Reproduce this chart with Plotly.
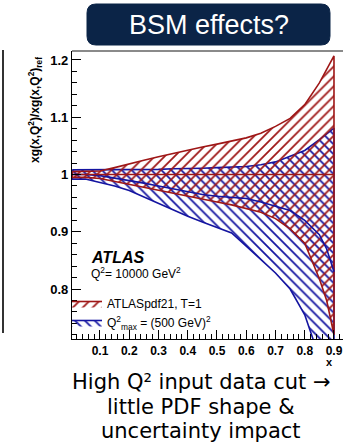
import plotly.graph_objects as go

# ---------------- data ----------------
x_vals = [0.005, 0.05, 0.1, 0.15, 0.2, 0.25, 0.3, 0.35, 0.4, 0.45, 0.5, 0.55,
          0.6, 0.65, 0.7, 0.75, 0.8, 0.85, 0.875, 0.9]

ref_central = [1.0] * len(x_vals)
ref_upper = [1.005, 1.005, 1.006, 1.012, 1.019, 1.025, 1.031, 1.037, 1.043, 1.048, 1.053, 1.058,
             1.064, 1.072, 1.084, 1.098, 1.122, 1.160, 1.183, 1.207]
ref_lower = [0.995, 0.995, 0.993, 0.988, 0.982, 0.977, 0.972, 0.967, 0.962, 0.957, 0.952, 0.947,
             0.941, 0.934, 0.923, 0.905, 0.880, 0.818, 0.780, 0.720]

cut_central = [1.0, 1.0, 0.998, 0.994, 0.990, 0.985, 0.980, 0.975, 0.970, 0.965, 0.962, 0.960,
               0.958, 0.952, 0.944, 0.937, 0.920, 0.895, 0.870, 0.830]
cut_upper = [1.008, 1.008, 1.008, 1.008, 1.009, 1.009, 1.009, 1.010, 1.010, 1.011, 1.012, 1.013,
             1.014, 1.017, 1.022, 1.032, 1.042, 1.061, 1.071, 1.081]
cut_lower = [0.992, 0.992, 0.986, 0.980, 0.972, 0.961, 0.950, 0.938, 0.927, 0.917, 0.907, 0.898,
             0.875, 0.852, 0.828, 0.800, 0.755, 0.680, 0.640, 0.600]

x_ticks = [0.1, 0.2, 0.3, 0.4, 0.5, 0.6, 0.7, 0.8, 0.9]
x_ticklabels = ["0.1", "0.2", "0.3", "0.4", "0.5", "0.6", "0.7", "0.8", "0.9"]
y_ticks = [0.8, 0.9, 1.0, 1.1, 1.2]
y_ticklabels = ["0.8", "0.9", "1", "1.1", "1.2"]

series_names = ["ATLASpdf21, T=1", "Q<sup>2</sup><sub>max</sub> = (500 GeV)<sup>2</sup>"]

# ---------------- style ----------------
RED = "#9e1616"
BLUE = "#1414a0"
FONT = "Liberation Sans, Arial, sans-serif"
W, H = 343, 445
ML, MR, MT, MB = 72, 0, 51, 106
PW, PH = W - ML - MR, H - MT - MB


def px(xp):
    return (xp - ML) / PW


def py(yp):
    return (H - MB - yp) / PH


def band(xs, up, lo):
    bx = list(xs) + list(xs)[::-1] + [xs[0]]
    by = list(up) + list(lo)[::-1] + [up[0]]
    return bx, by


fig = go.Figure()

bx, by = band(x_vals, cut_upper, cut_lower)
fig.add_trace(go.Scatter(
    x=bx, y=by, mode="lines", fill="toself", name=series_names[1],
    line=dict(color=BLUE, width=1.6),
    fillcolor="rgba(0,0,0,0)",
    fillpattern=dict(shape="\\", fgcolor=BLUE, bgcolor="rgba(0,0,0,0)",
                     size=7, solidity=0.25, fgopacity=1),
    hoverinfo="skip", legendrank=2,
))
bx, by = band(x_vals, ref_upper, ref_lower)
fig.add_trace(go.Scatter(
    x=bx, y=by, mode="lines", fill="toself", name=series_names[0],
    line=dict(color=RED, width=1.6),
    fillcolor="rgba(0,0,0,0)",
    fillpattern=dict(shape="/", fgcolor=RED, bgcolor="rgba(0,0,0,0)",
                     size=7, solidity=0.25, fgopacity=1),
    hoverinfo="skip", legendrank=1,
))
fig.add_trace(go.Scatter(x=x_vals, y=cut_central, mode="lines",
                         line=dict(color=BLUE, width=1.6), showlegend=False))
fig.add_trace(go.Scatter(x=x_vals, y=ref_central, mode="lines",
                         line=dict(color=RED, width=1.6), showlegend=False))

fig.update_layout(
    width=W, height=H,
    margin=dict(l=ML, r=MR, t=MT, b=MB, pad=0),
    paper_bgcolor="white", plot_bgcolor="white",
    font=dict(family=FONT, color="black"),
    showlegend=True,
    legend=dict(x=px(67), y=py(289), xanchor="left", yanchor="top",
                bgcolor="rgba(0,0,0,0)", font=dict(size=12, family=FONT),
                itemwidth=30, tracegroupgap=0, traceorder="normal"),
    xaxis=dict(range=[0.0043, 0.9308], showgrid=False, zeroline=False,
               showline=True, linecolor="black", linewidth=1.2,
               tickmode="array", tickvals=x_ticks, ticktext=x_ticklabels,
               ticks="inside", ticklen=9, tickcolor="black", tickwidth=1,
               ticklabeloverflow="allow",
               tickfont=dict(size=12, family=FONT, weight="bold"),
               minor=dict(tickmode="linear", tick0=0, dtick=0.02, ticks="inside",
                          ticklen=5, tickcolor="black", tickwidth=1)),
    yaxis=dict(range=[0.7127, 1.2157], showgrid=False, zeroline=False,
               showline=True, linecolor="black", linewidth=1.2,
               tickmode="array", tickvals=y_ticks, ticktext=y_ticklabels,
               ticks="inside", ticklen=9, tickcolor="black", tickwidth=1,
               ticklabeloverflow="allow",
               tickfont=dict(size=13, family=FONT, weight="bold"),
               minor=dict(tickmode="linear", tick0=0, dtick=0.02, ticks="inside",
                          ticklen=5, tickcolor="black", tickwidth=1)),
)

# frame top line (gray) and slide decoration line at left
fig.add_shape(type="line", xref="paper", yref="paper", x0=0, x1=px(343), y0=1, y1=1,
              line=dict(color="#8a8a8a", width=2))
fig.add_shape(type="line", xref="paper", yref="paper", x0=px(3), x1=px(3), y0=py(50), y1=py(333),
              line=dict(color="#333333", width=2))

# rounded title box
hw, hh, r = 121.5, 20.5, 9
path = (f"M {-hw + r},{-hh} L {hw - r},{-hh} Q {hw},{-hh} {hw},{-hh + r} "
        f"L {hw},{hh - r} Q {hw},{hh} {hw - r},{hh} L {-hw + r},{hh} "
        f"Q {-hw},{hh} {-hw},{hh - r} L {-hw},{-hh + r} Q {-hw},{-hh} {-hw + r},{-hh} Z")
fig.add_shape(type="path", xref="paper", yref="paper", xsizemode="pixel", ysizemode="pixel",
              xanchor=px(208.5), yanchor=py(24.5), path=path,
              fillcolor="#0b2447", line=dict(color="#0b2447", width=1), layer="above")
fig.add_annotation(xref="paper", yref="paper", x=px(208.5), y=py(25), text="BSM effects?",
                   showarrow=False, font=dict(size=27, color="white", family=FONT),
                   xanchor="center", yanchor="middle")

# axis titles
fig.add_annotation(xref="paper", yref="paper", x=px(35), y=py(110),
                   text="<b>xg(x,Q<sup>2</sup>)/xg(x,Q<sup>2</sup>)<sub>ref</sub></b>",
                   textangle=-90, showarrow=False, font=dict(size=12, family=FONT),
                   xanchor="center", yanchor="middle")
fig.add_annotation(xref="paper", yref="paper", x=px(329), y=py(362), text="<b>x</b>",
                   showarrow=False, font=dict(size=11, family=FONT),
                   xanchor="center", yanchor="middle")

# ATLAS label
fig.add_annotation(xref="paper", yref="paper", x=px(89), y=py(257), text="<b><i>ATLAS</i></b>",
                   showarrow=False, font=dict(size=16, family=FONT),
                   xanchor="left", yanchor="middle")
fig.add_annotation(xref="paper", yref="paper", x=px(89), y=py(273),
                   text="Q<sup>2</sup>= 10000 GeV<sup>2</sup>",
                   showarrow=False, font=dict(size=12, family=FONT),
                   xanchor="left", yanchor="middle")

# bottom comment text
comment_lines = ["High Q² input data cut →", "little PDF shape &", "uncertainty impact"]
for i, (line, yc) in enumerate(zip(comment_lines, [382, 407, 431])):
    fig.add_annotation(xref="paper", yref="paper", x=px(201), y=py(yc), text=line,
                       showarrow=False, font=dict(size=21, family="DejaVu Sans", color="black"),
                       xanchor="center", yanchor="middle")

fig.write_html("out.html", config={"displayModeBar": False},
               post_script="document.body.style.margin='0px';document.body.style.overflow='hidden';")
